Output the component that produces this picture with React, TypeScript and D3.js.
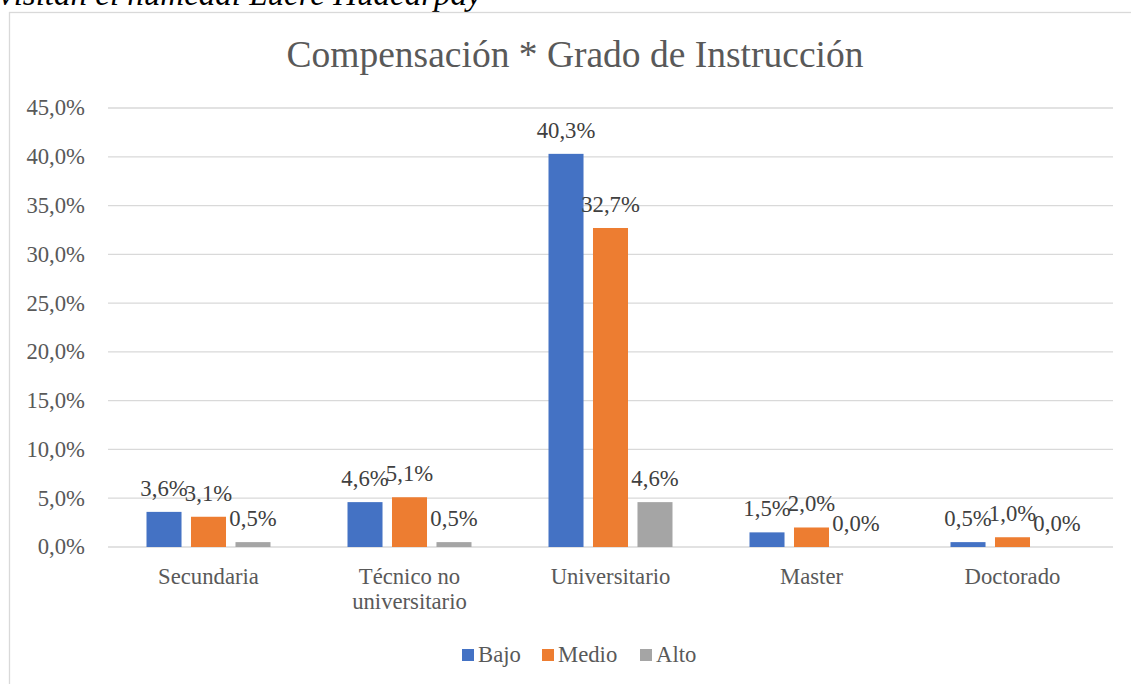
import React, { useEffect, useRef } from 'react'
import * as d3 from 'd3'

const categories = ['Secundaria', 'Técnico no universitario', 'Universitario', 'Master', 'Doctorado']
const series = ['Bajo', 'Medio', 'Alto']
const bajo = [3.6, 4.6, 40.3, 1.5, 0.5]
const medio = [3.1, 5.1, 32.7, 2.0, 1.0]
const alto = [0.5, 0.5, 4.6, 0.0, 0.0]
const colors = ['#4472C4', '#ED7D31', '#A5A5A5']
const yTicks = [0, 5, 10, 15, 20, 25, 30, 35, 40, 45]

const W = 1131
const H = 684
const FONT = '"Liberation Serif", "Times New Roman", serif'

const fmt = (v: number) => v.toFixed(1).replace('.', ',') + '%'

const App: React.FC = () => {
  const svgRef = useRef<SVGSVGElement>(null)

  useEffect(() => {
    if (!svgRef.current) return
    const svg = d3.select(svgRef.current)
    svg.selectAll('*').remove()

    const values = [bajo, medio, alto]

    // caption above the chart, cut off by the page edge
    svg.append('text')
      .text('visitan el humedal Lucre Huacarpay')
      .attr('x', -1)
      .attr('y', 5)
      .attr('font-family', FONT)
      .attr('font-style', 'italic')
      .attr('font-size', 33)
      .attr('fill', '#000')

    // chart area
    svg.append('rect')
      .attr('x', 9.5)
      .attr('y', 12.5)
      .attr('width', W)
      .attr('height', H)
      .attr('fill', '#fff')
      .attr('stroke', '#D9D9D9')
      .attr('stroke-width', 1.3)

    svg.append('text')
      .text('Compensación * Grado de Instrucción')
      .attr('x', 575)
      .attr('y', 67)
      .attr('text-anchor', 'middle')
      .attr('font-family', FONT)
      .attr('font-size', 37.5)
      .attr('fill', '#595959')

    const y = d3.scaleLinear().domain([0, 45]).range([547, 108])
    const x0 = d3.scaleBand().domain(categories).range([108, 1113])
    const x1 = d3.scaleBand().domain(series).range([0, 124]).paddingInner(0.213)
    const groupOffset = x0.bandwidth() / 2 - 62

    // gridlines + y labels
    const grid = svg.append('g')
    grid.selectAll('line')
      .data(yTicks)
      .enter()
      .append('line')
      .attr('x1', 108)
      .attr('x2', 1113)
      .attr('y1', d => y(d))
      .attr('y2', d => y(d))
      .attr('stroke', '#D9D9D9')
      .attr('stroke-width', 1.3)

    grid.selectAll('text')
      .data(yTicks)
      .enter()
      .append('text')
      .text(d => fmt(d))
      .attr('x', 85)
      .attr('y', d => y(d))
      .attr('dy', '0.33em')
      .attr('text-anchor', 'end')
      .attr('font-family', FONT)
      .attr('font-size', 22.7)
      .attr('fill', '#595959')

    // bars
    series.forEach((s, si) => {
      const g = svg.append('g')
      g.selectAll('rect')
        .data(values[si])
        .enter()
        .append('rect')
        .attr('x', (d, i) => (x0(categories[i]) as number) + groupOffset + (x1(s) as number))
        .attr('y', d => y(d))
        .attr('width', x1.bandwidth())
        .attr('height', d => y(0) - y(d))
        .attr('fill', colors[si])

      g.selectAll('text')
        .data(values[si])
        .enter()
        .append('text')
        .text(d => fmt(d))
        .attr('x', (d, i) => (x0(categories[i]) as number) + groupOffset + (x1(s) as number) + x1.bandwidth() / 2)
        .attr('y', d => y(d) - 16)
        .attr('text-anchor', 'middle')
        .attr('font-family', FONT)
        .attr('font-size', 22.7)
        .attr('fill', '#404040')
    })

    // category labels, wrapped like Excel
    const catG = svg.append('g')
    categories.forEach(c => {
      const cx = (x0(c) as number) + x0.bandwidth() / 2
      const t = catG.append('text')
        .attr('x', cx)
        .attr('y', 584)
        .attr('text-anchor', 'middle')
        .attr('font-family', FONT)
        .attr('font-size', 22.7)
        .attr('fill', '#595959')
      const words = c.split(' ')
      let line: string[] = []
      let tspan = t.append('tspan').attr('x', cx).attr('dy', 0)
      words.forEach(w => {
        line.push(w)
        tspan.text(line.join(' '))
        const node = tspan.node() as SVGTSpanElement
        if (node.getComputedTextLength() > 170 && line.length > 1) {
          line.pop()
          tspan.text(line.join(' '))
          line = [w]
          tspan = t.append('tspan')
            .attr('x', cx)
            .attr('dy', 25)
            .text(w)
        }
      })
    })

    // legend
    const legendX = [462, 542, 640]
    const legend = svg.append('g')
    series.forEach((s, i) => {
      legend.append('rect')
        .attr('x', legendX[i])
        .attr('y', 649)
        .attr('width', 12)
        .attr('height', 12)
        .attr('fill', colors[i])
      legend.append('text')
        .text(s)
        .attr('x', legendX[i] + 16)
        .attr('y', 662)
        .attr('font-family', FONT)
        .attr('font-size', 22.7)
        .attr('fill', '#595959')
    })
  }, [])

  return (
    <svg
      ref={svgRef}
      width={W}
      height={H}
      style={{ position: 'absolute', left: 0, top: 0, background: '#fff' }}
    />
  )
}

export default App
